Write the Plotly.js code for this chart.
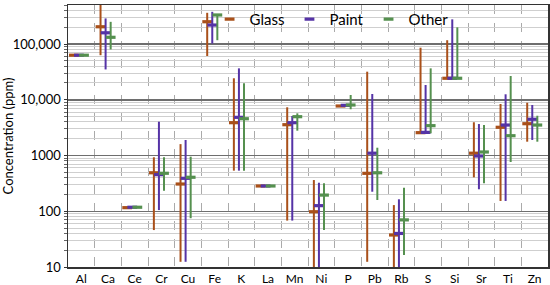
<!DOCTYPE html>
<html>
<head>
<meta charset="utf-8">
<script src="https://cdn.plot.ly/plotly-3.0.1.min.js"></script>
<style>html,body{margin:0;padding:0;background:#fff;}#chart{width:550px;height:285px;}</style>
</head>
<body>
<div id="chart"></div>
<script>
const categories = ["Al","Ca","Ce","Cr","Cu","Fe","K","La","Mn","Ni","P","Pb","Rb","S","Si","Sr","Ti","Zn"];

const glassMedian = [63000, 204000, 116, 490, 308, 251000, 3880, 284, 3570, 98, 7730, 479, 37.5, 2570, 24300, 1100, 3210, 3720];
const glassMin    = [63000,  63000, 116,  46, 12.4, 61000,  535, 284,   68,  9, 7730, 12.4,  9, 2570, 24300,  406,  153, 1770];
const glassMax    = [63000, 700000, 116, 930, 1600, 363000, 24300, 284, 7330, 363, 7730, 31900, 129, 85900, 117000, 3950, 8390, 8850];

const paintMedian = [63000, 159000, 118, 453, 390, 219000, 4840, 284, 3880, 126, 7950, 1100, 40, 2600, 24300, 980, 3520, 4470];
const paintMin    = [63000,  35000, 118, 105, 12.4, 102000, 535, 284,   68,   9, 7950,  224,  9, 2570, 24300, 248,  153, 1900];
const paintMax    = [63000, 288000, 118, 4040, 1900, 378000, 36600, 284, 5120, 325, 7950, 12700, 164, 18400, 277000, 3670, 12540, 8060];

const otherMedian = [63000, 132000, 118, 480, 407, 332000, 4570, 284, 4970, 195, 8060, 490, 70, 3430, 24300, 1156, 2265, 3520];
const otherMin    = [63000,  80000, 118, 234,  75, 117000,  535, 284, 2790,  46, 6760, 159, 16.4, 2500, 24300, 317, 764, 1770];
const otherMax    = [63000, 250000, 118, 930, 953, 345000, 19700, 284, 5710, 317, 12170, 1380, 264, 36600, 199000, 3520, 26700, 5170];

const yTickVals = [10, 100, 1000, 10000, 100000];
const yTickText = ["10", "100", "1000", "10,000", "100,000"];

const FONT = "Lato, 'Open Sans', sans-serif";

function series(name, med, mn, mx, color, offset) {
  return {
    type: "scatter",
    mode: "markers",
    name: name,
    x: categories.map((_, i) => i + offset),
    y: med,
    marker: { symbol: "line-ew", size: 7, color: color, line: { color: color, width: 3.2 } },
    error_y: {
      type: "data", symmetric: false,
      array: mx.map((v, i) => v - med[i]),
      arrayminus: mn.map((v, i) => med[i] - v),
      color: color, thickness: 2, width: 0
    },
    hoverinfo: "skip"
  };
}

const data = [
  series("Glass", glassMedian, glassMin, glassMax, "#A9501A", -0.28),
  series("Paint", paintMedian, paintMin, paintMax, "#5533A6", -0.09),
  series("Other", otherMedian, otherMin, otherMax, "#55904F", 0.10)
];

const layout = {
  width: 550, height: 285,
  margin: { l: 68, r: 2, t: 5, b: 18 },
  paper_bgcolor: "#ffffff", plot_bgcolor: "#ffffff",
  font: { family: FONT, size: 13, color: "#000" },
  showlegend: true,
  legend: {
    orientation: "h", x: 0.295, xanchor: "left", y: 0.945, yanchor: "middle",
    bgcolor: "rgba(255,255,255,0)", font: { family: FONT, size: 15, color: "#000" }
  },
  xaxis: {
    type: "linear", range: [-0.5, categories.length - 0.5],
    tickmode: "array", tickvals: categories.map((_, i) => i), ticktext: categories,
    ticks: "", showgrid: false, zeroline: false,
    showline: true, linecolor: "#333", linewidth: 1.5, mirror: true,
    tickfont: { family: FONT, size: 12, color: "#000" },
    minor: { tickmode: "array", tickvals: categories.slice(1).map((_, i) => i + 0.5), showgrid: true, gridcolor: "#aaaaaa", griddash: "dash", gridwidth: 1, ticks: "" }
  },
  yaxis: {
    type: "log", range: [1, 5.7],
    tickmode: "array", tickvals: yTickVals, ticktext: yTickText,
    ticks: "outside", ticklen: 3, tickcolor: "#333",
    showgrid: true, gridcolor: "#6e6e6e", gridwidth: 1.5,
    showline: true, linecolor: "#333", linewidth: 1.5, mirror: true,
    tickfont: { family: FONT, size: 13, color: "#000" },
    minor: { dtick: "D1", showgrid: true, gridcolor: "#cfcfcf", gridwidth: 1, ticks: "outside", ticklen: 3, tickcolor: "#666" },
    title: { text: "Concentration (ppm)", font: { family: FONT, size: 13, color: "#000" }, standoff: 6 }
  }
};

Plotly.newPlot("chart", data, layout, { displayModeBar: false, staticPlot: true });
</script>
</body>
</html>
